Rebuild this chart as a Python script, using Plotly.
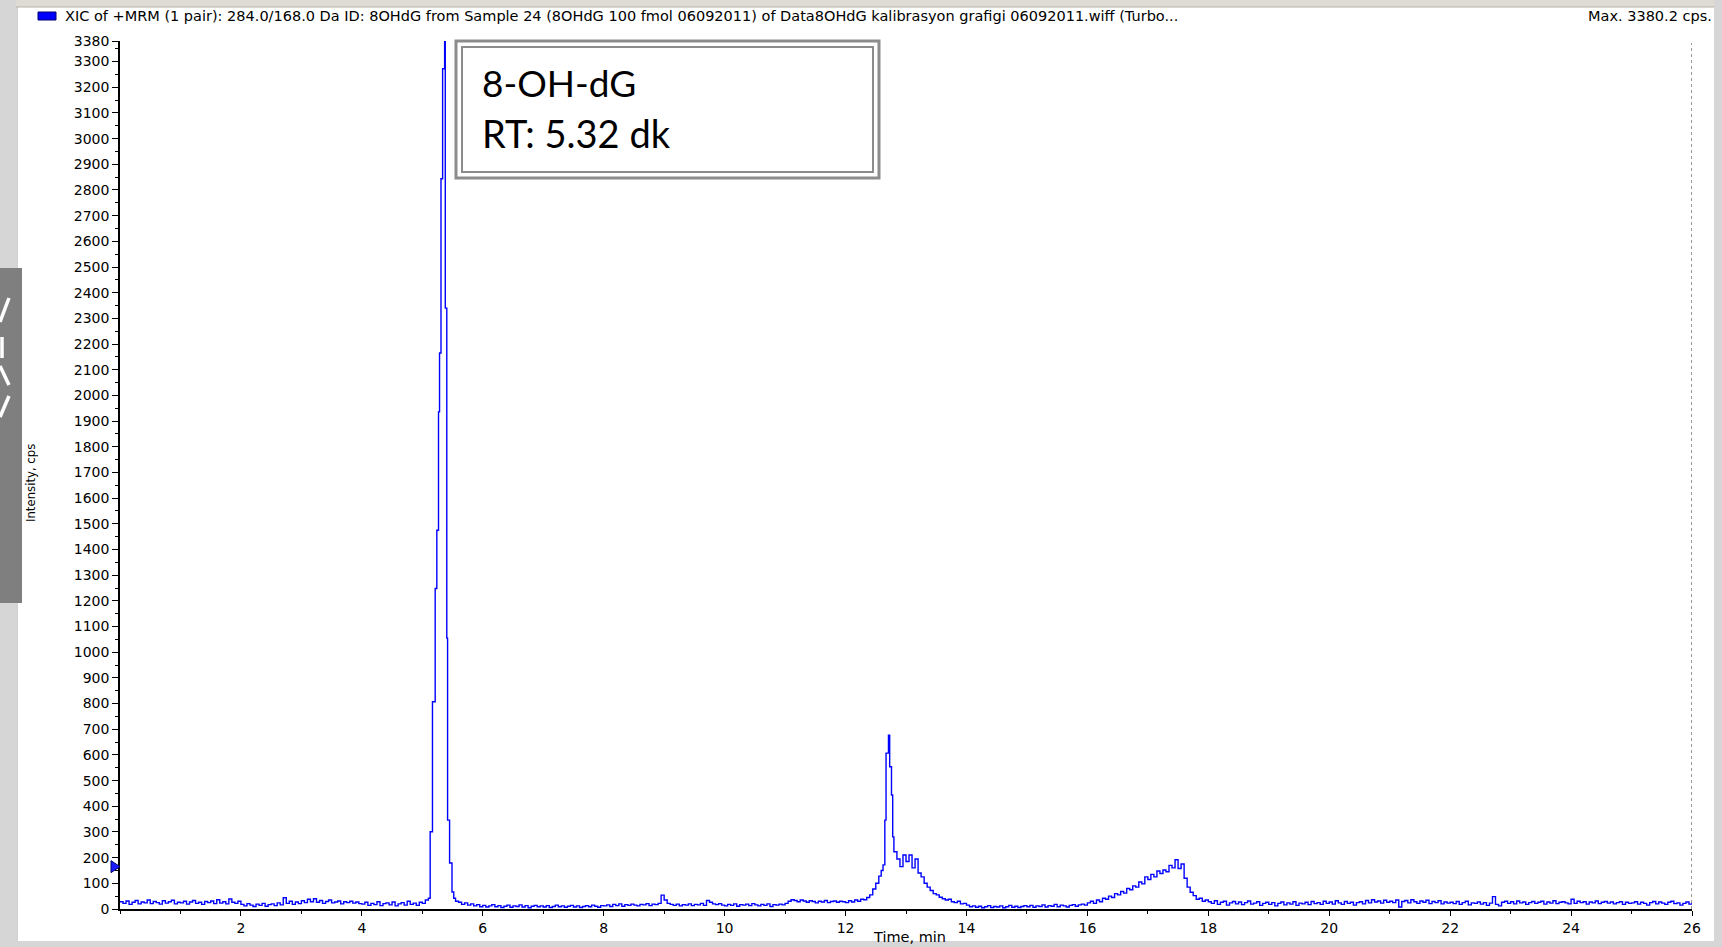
import numpy as np
import plotly.graph_objects as go

# ---------------------------------------------------------------
# XIC trace of the 8OHdG MRM transition (284.0/168.0 Da)
# Intensities in cps, sampled on a 0.05 min grid, with the two sharp
# peaks listed at their own scan times.
# ---------------------------------------------------------------

# 0.00 - 5.10 min, every 0.05 min
cps_start = [
    28, 22, 31, 18, 26, 33, 20, 27, 24, 35, 21, 29, 25, 19, 32, 23, 28, 34, 20, 26,
    24, 30, 19, 27, 33, 22, 26, 18, 29, 25, 31, 21, 36, 23, 28, 20, 39, 26, 22, 30,
    18, 12, 21, 15, 10, 19, 14, 22, 11, 17, 20, 13, 24, 16, 44, 22, 30, 18, 27, 21,
    32, 25, 38, 28, 40, 26, 33, 22, 29, 35, 24, 27, 31, 20, 28, 25, 30, 23, 27, 21,
    19, 26, 14, 22, 17, 28, 13, 21, 24, 16, 27, 12, 20, 25, 15, 30, 18, 23, 14, 26,
    22, 35, 42,
]

# 8-OH-dG peak scans
peak1_rt = [5.130, 5.168, 5.213, 5.240, 5.268, 5.285, 5.309, 5.336, 5.369,
            5.380, 5.405, 5.418, 5.451, 5.491, 5.520, 5.550]
peak1_cps = [301, 807, 1248, 1475, 1936, 2165, 2844, 3272, 3380.2,
             2340, 1055, 346, 179, 66, 42, 30]

# 5.60 - 12.55 min, every 0.05 min
cps_mid = [
    26, 18, 24, 15, 20, 12, 17, 9,
    14, 8, 12, 17, 9, 13, 6, 11, 15, 7, 12, 10, 16, 8, 13, 5, 11, 14, 9, 12,
    8, 13, 6, 10, 15, 9, 12, 7, 11, 14, 8, 12, 6, 10, 13, 9, 15, 11, 7, 13,
    12, 16, 10, 18, 13, 20, 11, 17, 14, 19, 15, 12, 18, 16, 21, 13, 19, 17, 22, 54,
    35, 22, 18, 14, 19, 12, 17, 15, 20, 13, 18, 16, 22, 14, 33, 26, 20, 17, 21, 15,
    12, 18, 14, 20, 11, 17, 15, 19, 13, 21, 16, 12, 18, 14, 20, 10, 17, 15, 19, 16,
    22, 30, 36, 33, 28, 35, 31, 26, 32, 29, 24, 30, 27, 33, 25, 29, 31, 26, 30, 28,
    25, 32, 27, 35, 30, 38, 36, 45, 55, 78, 100, 128,
]

# second peak scans
peak2_rt = [12.59, 12.62, 12.65, 12.67, 12.71, 12.73, 12.76, 12.78, 12.80]
peak2_cps = [150, 172, 346, 607, 677, 554, 444, 281, 223]

# 12.85 - 26.00 min, every 0.05 min
cps_late = [
    195, 165, 210,
    185, 210, 160, 195, 140, 125, 100, 85, 72, 60, 55, 46, 40, 35, 38, 28, 25, 30, 20, 22,
    15, 9, 12, 7, 11, 5, 9, 13, 6, 10, 8, 12, 5, 9, 14, 7, 11, 6, 10, 13,
    9, 14, 7, 12, 10, 16, 8, 13, 11, 18, 9, 15, 12, 8, 14, 17, 11, 16, 19, 15,
    24, 30, 22, 35, 28, 42, 38, 50, 45, 60, 55, 68, 62, 80, 75, 90, 85, 105, 98, 125,
    115, 135, 125, 148, 138, 152, 145, 170, 160, 192, 158, 175, 120, 85, 65, 52, 38, 42, 30, 35,
    28, 22, 32, 18, 26, 30, 15, 24, 29, 20, 27, 17, 25, 31, 19, 23, 28, 14, 22, 26,
    18, 25, 12, 22, 27, 16, 24, 19, 28, 14, 23, 20, 26, 17, 29, 21, 25, 18, 30, 22,
    27, 19, 32, 24, 18, 29, 22, 26, 15, 25, 28, 20, 33, 24, 36, 27, 31, 23, 34, 26,
    30, 25, 35, 8, 29, 33, 24, 36, 28, 22, 31, 26, 34, 21, 29, 25, 32, 20, 27, 23,
    26, 21, 29, 18, 25, 30, 16, 24, 22, 27, 19, 25, 14, 23, 48, 18, 12, 26, 30, 22,
    28, 20, 31, 24, 27, 18, 25, 29, 22, 26, 30, 19, 27, 23, 32, 21, 26, 28, 24, 20,
    38, 22, 30, 25, 28, 19, 27, 24, 31, 21, 26, 29, 23, 27, 20, 25, 28, 18, 26, 22,
    24, 28, 19, 26, 22, 15, 25, 29, 20, 27, 23, 18, 26, 30, 21, 24, 15, 22, 27, 19,
    24,
]

x_ticks = list(range(2, 27, 2))
y_ticks = list(range(0, 3301, 100)) + [3380]
max_cps = 3380.2
threshold_level = 165

header = ("XIC of +MRM (1 pair): 284.0/168.0 Da ID: 8OHdG from Sample 24 "
          "(8OHdG 100 fmol 06092011) of Data8OHdG kalibrasyon grafigi "
          "06092011.wiff (Turbo...")
max_label = "Max. %.1f cps." % max_cps
box_lines = ["8-OH-dG", "RT: 5.32 dk"]


def grid(start, values, step=0.05):
    return list(np.round(start + step * np.arange(len(values)), 3))


rt = grid(0.0, cps_start) + peak1_rt + grid(5.60, cps_mid) + peak2_rt + grid(12.85, cps_late)
cps = cps_start + peak1_cps + cps_mid + peak2_cps + cps_late

# ---------------------------------------------------------------
W, H = 1722, 947
L, R, T, B = 120, 30, 41, 38
PW, PH = W - L - R, H - T - B
CPS_PER_PX = max_cps / PH


def fx(px):
    return (px - L) / PW


def fy(py):
    return (H - B - py) / PH


fig = go.Figure()
fig.add_trace(go.Scatter(
    x=rt, y=cps, mode="lines",
    line=dict(color="#0000ff", width=1.4, shape="hv"),
    hoverinfo="skip",
))

sans = "DejaVu Sans"
shapes = []


def rect(x0, y0, x1, y1, fill=None, line=None, lw=0, layer="above"):
    shapes.append(dict(
        type="rect", xref="paper", yref="paper",
        x0=fx(x0), x1=fx(x1), y0=fy(y1), y1=fy(y0),
        fillcolor=fill if fill else "rgba(0,0,0,0)",
        line=dict(color=line if line else "rgba(0,0,0,0)", width=lw),
        layer=layer,
    ))


def seg(x0, y0, x1, y1, color, lw):
    shapes.append(dict(
        type="line", xref="paper", yref="paper",
        x0=fx(x0), x1=fx(x1), y0=fy(y0), y1=fy(y1),
        line=dict(color=color, width=lw), layer="above",
    ))


# window frame
rect(0, 0, W, 7, fill="#dedbd3")
seg(0, 7, W, 7, "#b5b1a8", 1)
rect(0, 0, 16, H, fill="#d6d6d6")
seg(17, 7, 17, H - 6, "#a8a8a8", 1)
rect(W - 8, 0, W, H, fill="#d6d6d6")
rect(0, H - 6, W, H, fill="#d6d6d6")
# side tab
rect(0, 268, 22, 603, fill="#7f7f7f")
seg(0, 322, 9, 298, "white", 3.5)
seg(2, 337, 2, 358, "white", 3.5)
seg(0, 366, 9, 385, "white", 3.5)
seg(0, 417, 9, 396, "white", 3.5)
# legend swatch
rect(38, 12, 56, 20, fill="#0000ff", line="#000070", lw=1)
# threshold arrow sitting on the intensity axis
half = 6 * CPS_PER_PX
shapes.append(dict(
    type="path", xref="paper", yref="y",
    path="M %f,%f L %f,%f L %f,%f Z" % (
        fx(111), threshold_level + half, fx(120), threshold_level,
        fx(111), threshold_level - half),
    fillcolor="#1a1aff", line=dict(color="#00006e", width=1), layer="above",
))
# end-of-run marker
shapes.append(dict(type="line", xref="x", yref="paper", x0=26, x1=26,
                   y0=0, y1=fy(43), line=dict(color="#303030", width=1, dash="dot")))
# peak label box (double border)
rect(456, 41, 879, 178, fill="white", line="#8c8c8c", lw=3)
rect(462, 47, 873, 172, line="#8c8c8c", lw=2)

annotations = [
    dict(text=header, x=fx(63), y=fy(16), xanchor="left", yanchor="middle",
         font=dict(family=sans, size=14.5, color="black")),
    dict(text=max_label, x=fx(1714), y=fy(16), xanchor="right", yanchor="middle",
         font=dict(family=sans, size=14.5, color="black")),
    dict(text="Intensity, cps", x=fx(31), y=fy(483), textangle=-90,
         xanchor="center", yanchor="middle",
         font=dict(family="Liberation Sans Narrow, DejaVu Sans Condensed, sans-serif",
                   size=13, color="black")),
    dict(text="Time, min", x=fx(909), y=fy(937), xanchor="center", yanchor="middle",
         font=dict(family=sans, size=14.5, color="black")),
    dict(text=box_lines[0], x=fx(480), y=fy(82), xanchor="left", yanchor="middle",
         font=dict(family="Lato", size=37, color="black")),
    dict(text=box_lines[1], x=fx(480), y=fy(133), xanchor="left", yanchor="middle",
         font=dict(family="Lato", size=38, color="black")),
]
for a in annotations:
    a.update(xref="paper", yref="paper", showarrow=False)

fig.update_layout(
    width=W, height=H, autosize=False,
    margin=dict(l=L, r=R, t=T, b=B, pad=0),
    paper_bgcolor="white", plot_bgcolor="white",
    showlegend=False,
    shapes=shapes, annotations=annotations,
    xaxis=dict(
        range=[0, 26], showline=True, linecolor="black", linewidth=1.5,
        showgrid=False, zeroline=False,
        tickmode="array", tickvals=x_ticks, ticktext=[str(v) for v in x_ticks],
        ticks="outside", ticklen=5, tickwidth=1, tickcolor="black",
        tickfont=dict(family=sans, size=14, color="black"),
        minor=dict(tickmode="linear", tick0=0, dtick=1, ticks="outside",
                   ticklen=3, tickcolor="black", showgrid=False),
    ),
    yaxis=dict(
        range=[0, max_cps], showline=True, linecolor="black", linewidth=1.5,
        showgrid=False, zeroline=False,
        tickmode="array", tickvals=y_ticks, ticktext=[str(v) for v in y_ticks],
        ticks="outside", ticklen=6, tickwidth=1, tickcolor="black",
        tickfont=dict(family=sans, size=14, color="black"),
        minor=dict(tickmode="linear", tick0=0, dtick=50, ticks="outside",
                   ticklen=3, tickcolor="black", showgrid=False),
    ),
)

fig.write_html("out.html")
